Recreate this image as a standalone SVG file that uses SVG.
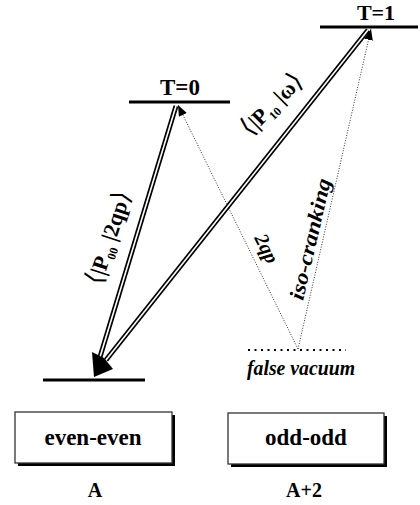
<svg xmlns="http://www.w3.org/2000/svg" width="420" height="505" viewBox="0 0 420 505">
<style>
.lvl{stroke:#000;stroke-width:3;fill:none}
.dblo{stroke:#000;stroke-width:5;fill:none}
.dbli{stroke:#fff;stroke-width:1.6;fill:none}
.dot{stroke:#333;stroke-width:1;stroke-dasharray:1 1.6;fill:none}
.fv{stroke:#000;stroke-width:2;stroke-dasharray:2 4.5;fill:none}
.b{font-family:"Liberation Serif","Times New Roman",serif;font-weight:bold;fill:#000}
.bi{font-family:"Liberation Serif","Times New Roman",serif;font-weight:bold;font-style:italic;fill:#000}
.ang{font-family:"DejaVu Sans",sans-serif;font-weight:normal}
.box{fill:#fff;stroke:#333;stroke-width:1.3}
.shadow{fill:#000}
</style>
<defs>
<marker id="tri" viewBox="0 0 10 8" refX="10" refY="4" markerWidth="11" markerHeight="9" orient="auto" markerUnits="userSpaceOnUse"><path d="M0,0 L10,4 L0,8 z" fill="#000"/></marker>
</defs>
<rect width="420" height="505" fill="#fff"/>

<g id="connectors">
<line class="dot" x1="298" y1="349" x2="178" y2="105" marker-end="url(#tri)"/>
<line class="dot" x1="298" y1="349" x2="371" y2="29" marker-end="url(#tri)"/>
<line class="dblo" x1="176" y1="106" x2="100" y2="357"/>
<line class="dbli" x1="176" y1="106" x2="100" y2="357"/>
<line class="dblo" x1="368" y1="30" x2="106" y2="360"/>
<line class="dbli" x1="368" y1="30" x2="106" y2="360"/>
<polygon points="94,377 92,352 104,358 113,369" fill="#000"/>
<text class="b" font-size="22" transform="translate(101,286) rotate(-72)"><tspan class="ang" font-size="26">⟨</tspan>|P<tspan font-size="12" dy="5">00</tspan><tspan dy="-5"> |2qp</tspan><tspan class="ang" font-size="26">⟩</tspan></text>
<text class="b" font-size="22" transform="translate(250,137) rotate(-45)"><tspan class="ang" font-size="26">⟨</tspan>|P<tspan font-size="12" dy="5">10</tspan><tspan dy="-5"> |ω</tspan><tspan class="ang" font-size="26">⟩</tspan></text>
<text class="bi" font-size="20" transform="translate(254,238) rotate(63.4)">2qp</text>
<text class="bi" font-size="21" transform="translate(303,301) rotate(-77)" textLength="124" lengthAdjust="spacingAndGlyphs">iso-cranking</text>
</g>

<g id="level-T1">
<line class="lvl" x1="320" y1="27" x2="418" y2="27"/>
<text class="b" font-size="22" x="376" y="20" text-anchor="middle">T=1</text>
</g>

<g id="level-T0">
<line class="lvl" x1="129" y1="102" x2="230" y2="102"/>
<text class="b" font-size="23" x="180" y="95" text-anchor="middle">T=0</text>
</g>

<g id="level-ground">
<line class="lvl" x1="43" y1="380" x2="145" y2="380"/>
</g>

<g id="false-vacuum">
<line class="fv" x1="248" y1="350" x2="346" y2="350"/>
<text class="bi" font-size="21" x="247" y="375" textLength="108" lengthAdjust="spacingAndGlyphs">false vacuum</text>
</g>

<g id="box-even">
<rect class="shadow" x="18" y="415" width="157" height="51"/>
<rect class="box" x="15" y="412" width="157" height="51"/>
<text class="b" font-size="23" x="93" y="445" text-anchor="middle">even-even</text>
<text class="b" font-size="20" x="95" y="497" text-anchor="middle">A</text>
</g>

<g id="box-odd">
<rect class="shadow" x="231" y="416" width="156" height="51"/>
<rect class="box" x="228" y="413" width="156" height="51"/>
<text class="b" font-size="23" x="306" y="445" text-anchor="middle">odd-odd</text>
<text class="b" font-size="20" x="304" y="497" text-anchor="middle">A+2</text>
</g>
</svg>
